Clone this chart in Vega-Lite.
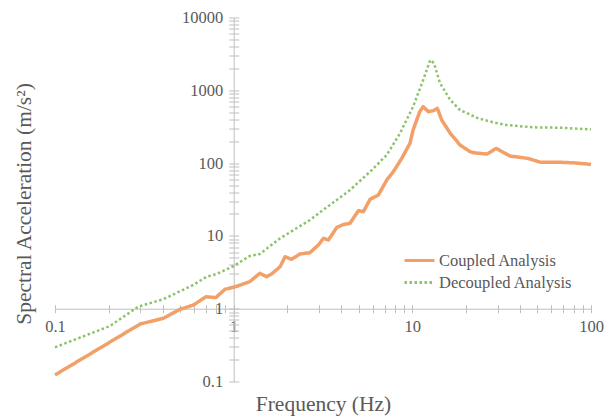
{
  "$schema": "https://vega.github.io/schema/vega-lite/v6.json",
  "width": 536,
  "height": 364,
  "autosize": {"type": "none"},
  "padding": {"left": 55, "top": 17.5, "right": 22, "bottom": 37.5},
  "background": "#ffffff",
  "config": {
    "view": {"stroke": null},
    "font": "Liberation Serif",
    "axis": {
      "domainColor": "#bfbfbf",
      "tickColor": "#bfbfbf",
      "labelColor": "#595959",
      "titleColor": "#595959",
      "labelFont": "Liberation Serif",
      "titleFont": "Liberation Serif",
      "labelFontSize": 16.5,
      "titleFontSize": 21.5,
      "titleFontWeight": "normal",
      "grid": false,
      "labelOverlap": false,
      "labelFlush": false,
      "labelBound": false
    },
    "legend": {
      "labelFont": "Liberation Serif",
      "labelFontSize": 16.5,
      "labelColor": "#595959",
      "padding": 0
    }
  },
  "datasets": {
    "spectra": [
      {"series": "Coupled Analysis", "f": 0.1, "a": 0.123},
      {"series": "Coupled Analysis", "f": 0.30, "a": 0.617},
      {"series": "Coupled Analysis", "f": 0.404, "a": 0.738},
      {"series": "Coupled Analysis", "f": 0.50, "a": 0.98},
      {"series": "Coupled Analysis", "f": 0.594, "a": 1.12},
      {"series": "Coupled Analysis", "f": 0.70, "a": 1.46},
      {"series": "Coupled Analysis", "f": 0.794, "a": 1.42},
      {"series": "Coupled Analysis", "f": 0.895, "a": 1.85},
      {"series": "Coupled Analysis", "f": 1.02, "a": 2.0},
      {"series": "Coupled Analysis", "f": 1.23, "a": 2.35},
      {"series": "Coupled Analysis", "f": 1.40, "a": 3.06},
      {"series": "Coupled Analysis", "f": 1.53, "a": 2.75},
      {"series": "Coupled Analysis", "f": 1.63, "a": 3.0},
      {"series": "Coupled Analysis", "f": 1.82, "a": 3.78},
      {"series": "Coupled Analysis", "f": 1.94, "a": 5.18},
      {"series": "Coupled Analysis", "f": 2.11, "a": 4.77},
      {"series": "Coupled Analysis", "f": 2.35, "a": 5.64},
      {"series": "Coupled Analysis", "f": 2.67, "a": 5.88},
      {"series": "Coupled Analysis", "f": 2.98, "a": 7.5},
      {"series": "Coupled Analysis", "f": 3.18, "a": 9.27},
      {"series": "Coupled Analysis", "f": 3.39, "a": 8.79},
      {"series": "Coupled Analysis", "f": 3.78, "a": 13.1},
      {"series": "Coupled Analysis", "f": 4.11, "a": 14.3},
      {"series": "Coupled Analysis", "f": 4.48, "a": 14.9},
      {"series": "Coupled Analysis", "f": 4.99, "a": 22.2},
      {"series": "Coupled Analysis", "f": 5.32, "a": 21.5},
      {"series": "Coupled Analysis", "f": 5.80, "a": 31.8},
      {"series": "Coupled Analysis", "f": 6.46, "a": 36.5},
      {"series": "Coupled Analysis", "f": 7.19, "a": 58.6},
      {"series": "Coupled Analysis", "f": 7.83, "a": 76.2},
      {"series": "Coupled Analysis", "f": 8.72, "a": 116},
      {"series": "Coupled Analysis", "f": 9.7, "a": 187},
      {"series": "Coupled Analysis", "f": 10.1, "a": 285},
      {"series": "Coupled Analysis", "f": 11.0, "a": 508},
      {"series": "Coupled Analysis", "f": 11.5, "a": 596},
      {"series": "Coupled Analysis", "f": 12.3, "a": 508},
      {"series": "Coupled Analysis", "f": 13.1, "a": 525},
      {"series": "Coupled Analysis", "f": 13.8, "a": 566},
      {"series": "Coupled Analysis", "f": 14.6, "a": 391},
      {"series": "Coupled Analysis", "f": 16.3, "a": 257},
      {"series": "Coupled Analysis", "f": 18.5, "a": 177},
      {"series": "Coupled Analysis", "f": 21.0, "a": 144},
      {"series": "Coupled Analysis", "f": 21.9, "a": 139},
      {"series": "Coupled Analysis", "f": 26.1, "a": 133},
      {"series": "Coupled Analysis", "f": 29.5, "a": 159},
      {"series": "Coupled Analysis", "f": 35.2, "a": 125},
      {"series": "Coupled Analysis", "f": 44.4, "a": 116},
      {"series": "Coupled Analysis", "f": 51.9, "a": 103},
      {"series": "Coupled Analysis", "f": 64.3, "a": 103},
      {"series": "Coupled Analysis", "f": 79.6, "a": 101},
      {"series": "Coupled Analysis", "f": 100, "a": 96},
      {"series": "Decoupled Analysis", "f": 0.1, "a": 0.295},
      {"series": "Decoupled Analysis", "f": 0.203, "a": 0.578},
      {"series": "Decoupled Analysis", "f": 0.292, "a": 1.065},
      {"series": "Decoupled Analysis", "f": 0.404, "a": 1.35},
      {"series": "Decoupled Analysis", "f": 0.594, "a": 2.12},
      {"series": "Decoupled Analysis", "f": 0.706, "a": 2.75},
      {"series": "Decoupled Analysis", "f": 0.804, "a": 3.0},
      {"series": "Decoupled Analysis", "f": 1.0, "a": 3.86},
      {"series": "Decoupled Analysis", "f": 1.23, "a": 5.3},
      {"series": "Decoupled Analysis", "f": 1.40, "a": 5.64},
      {"series": "Decoupled Analysis", "f": 1.82, "a": 9.27},
      {"series": "Decoupled Analysis", "f": 2.67, "a": 16.5},
      {"series": "Decoupled Analysis", "f": 3.46, "a": 26.6},
      {"series": "Decoupled Analysis", "f": 4.48, "a": 42.7},
      {"series": "Decoupled Analysis", "f": 5.80, "a": 76.2},
      {"series": "Decoupled Analysis", "f": 7.19, "a": 129},
      {"series": "Decoupled Analysis", "f": 8.53, "a": 257},
      {"series": "Decoupled Analysis", "f": 10.1, "a": 596},
      {"series": "Decoupled Analysis", "f": 11.5, "a": 1385},
      {"series": "Decoupled Analysis", "f": 12.6, "a": 2607},
      {"series": "Decoupled Analysis", "f": 13.2, "a": 2372},
      {"series": "Decoupled Analysis", "f": 14.3, "a": 1248},
      {"series": "Decoupled Analysis", "f": 16.3, "a": 736},
      {"series": "Decoupled Analysis", "f": 18.5, "a": 536},
      {"series": "Decoupled Analysis", "f": 23.4, "a": 412},
      {"series": "Decoupled Analysis", "f": 28.4, "a": 363},
      {"series": "Decoupled Analysis", "f": 33.7, "a": 333},
      {"series": "Decoupled Analysis", "f": 47.5, "a": 310},
      {"series": "Decoupled Analysis", "f": 67.0, "a": 306},
      {"series": "Decoupled Analysis", "f": 100, "a": 291}
    ]
  },
  "layer": [
    {
      "mark": {
        "type": "rect",
        "color": {
          "gradient": "linear",
          "x1": 0, "y1": 0, "x2": 0, "y2": 1,
          "stops": [
            {"offset": 0, "color": "#ffffff"},
            {"offset": 1, "color": "#eeeeee"}
          ]
        }
      },
      "encoding": {
        "x": {
          "datum": 0.1,
          "type": "quantitative",
          "scale": {"type": "log", "domain": [0.1, 100], "nice": false},
          "axis": {
            "orient": "bottom",
            "offset": -72.8,
            "values": [0.1,0.2,0.3,0.4,0.5,0.6,0.7,0.8,0.9,1,2,3,4,5,6,7,8,9,10,20,30,40,50,60,70,80,90,100],
            "format": "~g",
            "labelExpr": "indexof(['0.1','1','10','100'], datum.label) >= 0 ? datum.label : ''",
            "tickSize": 4,
            "labelPadding": 6,
            "title": "Frequency (Hz)",
            "titleY": 96,
            "titleBaseline": "middle"
          }
        },
        "x2": {"datum": 100},
        "y": {
          "datum": 0.1,
          "type": "quantitative",
          "scale": {"type": "log", "domain": [0.1, 10000], "nice": false},
          "axis": {
            "orient": "left",
            "offset": -178.7,
            "values": [0.1,0.2,0.3,0.4,0.5,0.6,0.7,0.8,0.9,1,2,3,4,5,6,7,8,9,10,20,30,40,50,60,70,80,90,100,200,300,400,500,600,700,800,900,1000,2000,3000,4000,5000,6000,7000,8000,9000,10000],
            "format": "~g",
            "labelExpr": "indexof(['0.1','1','10','100','1000','10000'], datum.label) >= 0 ? datum.label : ''",
            "tickSize": 5,
            "labelPadding": 6,
            "title": "Spectral Acceleration (m/s²)",
            "titleX": -209,
            "titleY": 186,
            "titleBaseline": "middle"
          }
        },
        "y2": {"datum": 3900}
      }
    },
    {
      "data": {"name": "spectra"},
      "mark": {"type": "line", "strokeCap": "butt", "strokeJoin": "round"},
      "encoding": {
        "x": {
          "field": "f",
          "type": "quantitative",
          "scale": {"type": "log", "domain": [0.1, 100], "nice": false},
          "axis": {
            "orient": "bottom",
            "offset": -72.8,
            "values": [0.1,0.2,0.3,0.4,0.5,0.6,0.7,0.8,0.9,1,2,3,4,5,6,7,8,9,10,20,30,40,50,60,70,80,90,100],
            "labels": false,
            "domain": false,
            "tickSize": -4,
            "title": null
          }
        },
        "y": {
          "field": "a",
          "type": "quantitative",
          "scale": {"type": "log", "domain": [0.1, 10000], "nice": false},
          "axis": {
            "orient": "left",
            "offset": -178.7,
            "values": [0.1,0.2,0.3,0.4,0.5,0.6,0.7,0.8,0.9,1,2,3,4,5,6,7,8,9,10,20,30,40,50,60,70,80,90,100,200,300,400,500,600,700,800,900,1000,2000,3000,4000,5000,6000,7000,8000,9000,10000],
            "labels": false,
            "domain": false,
            "tickSize": -5,
            "title": null
          }
        },
        "color": {
          "field": "series",
          "type": "nominal",
          "scale": {"domain": ["Coupled Analysis", "Decoupled Analysis"], "range": ["#f2a068", "#8cc26a"]},
          "legend": {
            "title": null,
            "orient": "none",
            "legendX": 348,
            "legendY": 232,
            "symbolType": "stroke",
            "symbolSize": 900,
            "symbolStrokeWidth": 3,
            "labelOffset": 3,
            "rowPadding": 0,
            "clipHeight": 22
          }
        },
        "strokeDash": {
          "field": "series",
          "type": "nominal",
          "scale": {"domain": ["Coupled Analysis", "Decoupled Analysis"], "range": [[1, 0], [2.5, 2.5]]},
          "legend": {
            "title": null,
            "orient": "none",
            "legendX": 348,
            "legendY": 232,
            "symbolType": "stroke",
            "symbolSize": 900,
            "symbolStrokeWidth": 3,
            "labelOffset": 3,
            "rowPadding": 0,
            "clipHeight": 22
          }
        },
        "strokeWidth": {
          "condition": {"test": "datum.series === 'Coupled Analysis'", "value": 3.5},
          "value": 2.5
        },
        "order": {"field": "f", "type": "quantitative"}
      }
    }
  ],
  "resolve": {"axis": {"x": "independent", "y": "independent"}}
}
